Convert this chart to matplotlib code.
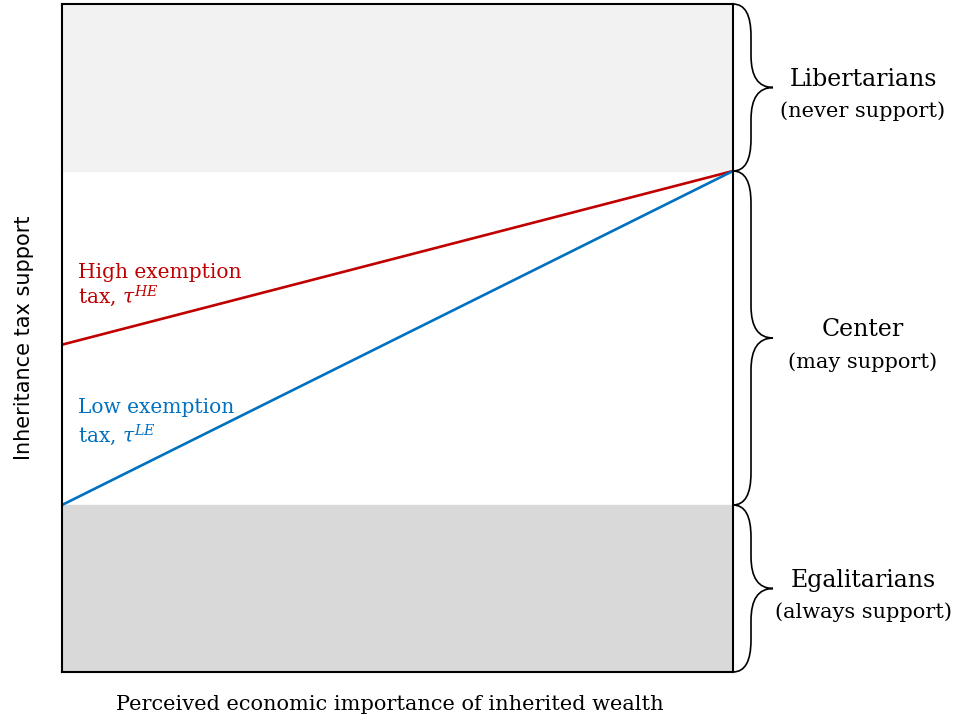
import matplotlib
matplotlib.use("Agg")
import matplotlib.pyplot as plt
from matplotlib.path import Path
from matplotlib.patches import PathPatch

# Band thresholds (share of the support axis)
band_low = 0.25
band_high = 0.75

# Line end points at x = 0 and x = 1
x_pts = [0.0, 1.0]
high_exemption = [0.49, 0.75]
low_exemption = [0.25, 0.75]

groups = ["Libertarians", "Center", "Egalitarians"]
group_notes = ["(never support)", "(may support)", "(always support)"]
group_spans = [(band_high, 1.0), (band_low, band_high), (0.0, band_low)]

SERIF = "DejaVu Serif"
plt.rcParams["mathtext.fontset"] = "dejavuserif"

fig = plt.figure(figsize=(9.57, 7.27), dpi=100)
ax = fig.add_axes([62 / 957, 1 - 672 / 727, 671 / 957, 668 / 727])
ax.set_xlim(0, 1)
ax.set_ylim(0, 1)

ax.axhspan(band_high, 1.0, color="#f2f2f2", zorder=0)
ax.axhspan(0.0, band_low, color="#d9d9d9", zorder=0)

ax.plot(x_pts, high_exemption, color="#c00000", lw=1.9, zorder=2)
ax.plot(x_pts, low_exemption, color="#0070c0", lw=1.9, zorder=2)

# line labels, two lines each
ax.text(0.024, 0.598, "High exemption", color="#c00000",
        fontsize=14.5, family=SERIF, va="center")
ax.text(0.024, 0.562, "tax, $\\tau^{HE}$", color="#c00000",
        fontsize=14.5, family=SERIF, va="center")
ax.text(0.024, 0.396, "Low exemption", color="#0070c0",
        fontsize=14.5, family=SERIF, va="center")
ax.text(0.024, 0.355, "tax, $\\tau^{LE}$", color="#0070c0",
        fontsize=14.5, family=SERIF, va="center")

for s in ax.spines.values():
    s.set_linewidth(1.5)
    s.set_color("black")
ax.set_xticks([])
ax.set_yticks([])

ax.set_xlabel("Perceived economic importance of inherited wealth",
              family=SERIF, fontsize=15, labelpad=18)
ax.xaxis.set_label_coords(0.488, -0.035, transform=ax.transAxes)
ax.xaxis.label.set_va("top")
ax.set_ylabel("Inheritance tax support", family="DejaVu Sans", fontsize=15,
              labelpad=20)


def brace(y0, y1, width=40, r=32):
    # brace in display pixels, from the right edge of the axes
    x0, py0 = ax.transData.transform((1.0, y0))
    _, py1 = ax.transData.transform((1.0, y1))
    q = width * 0.45
    pm = (py0 + py1) / 2
    verts = [
        (x0, py0), (x0 + q, py0), (x0 + q, py0 + r),
        (x0 + q, pm - r),
        (x0 + q, pm), (x0 + width, pm),
        (x0 + q, pm), (x0 + q, pm + r),
        (x0 + q, py1 - r),
        (x0 + q, py1), (x0, py1),
    ]
    codes = [Path.MOVETO, Path.CURVE3, Path.CURVE3, Path.LINETO,
             Path.CURVE3, Path.CURVE3, Path.CURVE3, Path.CURVE3,
             Path.LINETO, Path.CURVE3, Path.CURVE3]
    patch = PathPatch(Path(verts, codes), fill=False, lw=1.2, color="black",
                      transform=None, clip_on=False)
    fig.add_artist(patch)
    return x0 + width, pm


for name, note, (y0, y1) in zip(groups, group_notes, group_spans):
    tx, ty = brace(y0, y1)
    fx = (tx + 90) / 957
    fig.text(fx, (ty + 8) / 727, name, family=SERIF, fontsize=17,
             ha="center", va="center")
    fig.text(fx, (ty - 24) / 727, note, family=SERIF, fontsize=15,
             ha="center", va="center")

fig.savefig("out.png", dpi=100)
